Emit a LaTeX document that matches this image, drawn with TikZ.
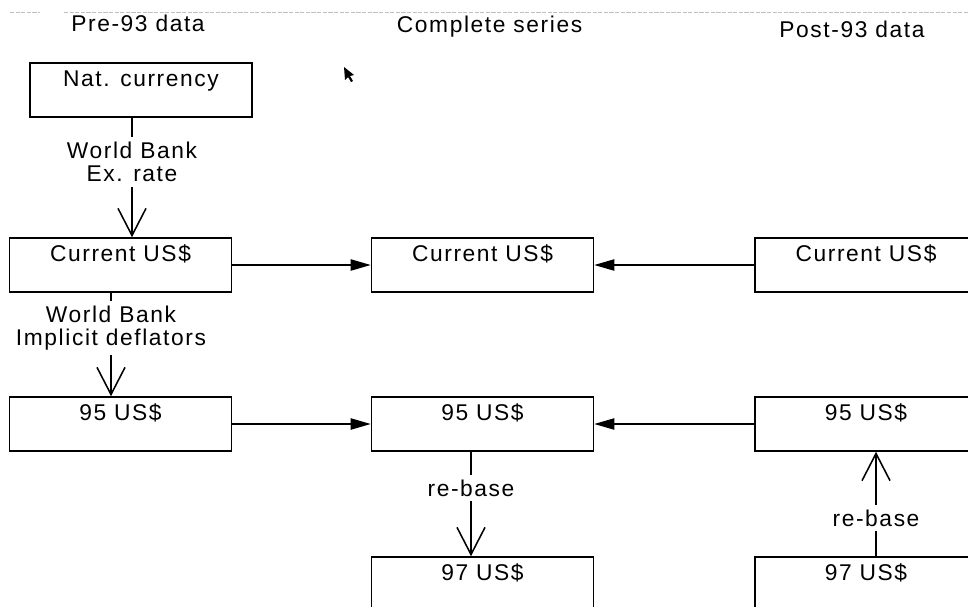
\documentclass[tikz,border=0pt]{standalone}
\usepackage{fontspec}
\setmainfont{Liberation Sans}[LetterSpace=7]
\usetikzlibrary{arrows.meta}

\begin{document}
\begin{tikzpicture}[line width=1.1pt,
  every node/.style={font=\fontsize{16.2}{16.5}\selectfont},
  box/.style={draw, inner sep=0pt, minimum width=5.55cm, text height=0.575cm, text depth=0.775cm},
  lbl/.style={align=center, inner xsep=2pt, inner ysep=3pt},
  conv/.style={-{Straight Barb[length=0.68cm,width=0.7cm]}},
  feed/.style={-{Triangle[length=0.5cm,width=0.28cm]}}]
\useasboundingbox (0,0) rectangle (24.2,-15.15);
\clip (0,0) rectangle (24.2,-15.15);

\draw[gray!50, line width=0.4pt, dash pattern=on 3pt off 1pt] (0.25,-0.3) -- (1.0,-0.3) (1.6,-0.3) -- (24.2,-0.3);
\fill (8.6,-1.675) -- (8.625,-2.0) -- (8.7,-1.925) -- (8.775,-2.05) -- (8.825,-2.025) -- (8.75,-1.9) -- (8.85,-1.875) -- cycle;

\node (pre) at (3.45,-0.575) {Pre-93 data};
\node (comp) at (12.24,-0.675) {Complete series};
\node (post) at (21.3,-0.725) {Post-93 data};

\node[box] (nat) at (3.525,-2.25) {Nat. currency};
\node[box] (curA) at (3.0125,-6.625) {Current US\$};
\node[box] (curB) at (12.0625,-6.625) {Current US\$};
\node[box] (curC) at (21.65,-6.625) {Current US\$};
\node[box] (usdA) at (3.0125,-10.6) {95 US\$};
\node[box] (usdB) at (12.0625,-10.6) {95 US\$};
\node[box] (usdC) at (21.65,-10.6) {95 US\$};
\node[box] (bseB) at (12.0625,-14.6) {97 US\$};
\node[box] (bseC) at (21.65,-14.6) {97 US\$};

\node[lbl] (rate) at (3.3,-4.05) {World Bank\\Ex. rate};
\node[lbl] (defl) at (2.775,-8.2) {World Bank\\Implicit deflators};
\node[lbl] (rbB) at (11.775,-12.2) {re-base};
\node[lbl] (rbC) at (21.9,-12.95) {re-base};

\draw (nat.south -| rate) -- (rate);
\draw[conv] (rate) -- (curA.north -| rate);
\draw (curA.south -| defl) -- (defl);
\draw[conv] (defl) -- (usdA.north -| defl);
\draw (usdB.south -| rbB) -- (rbB);
\draw[conv] (rbB) -- (bseB.north -| rbB);
\draw (bseC.north -| rbC) -- (rbC);
\draw[conv] (rbC) -- (usdC.south -| rbC);

\draw[feed] (curA) -- (curB);
\draw[feed] (curC) -- (curB);
\draw[feed] (usdA) -- (usdB);
\draw[feed] (usdC) -- (usdB);

\end{tikzpicture}
\end{document}
